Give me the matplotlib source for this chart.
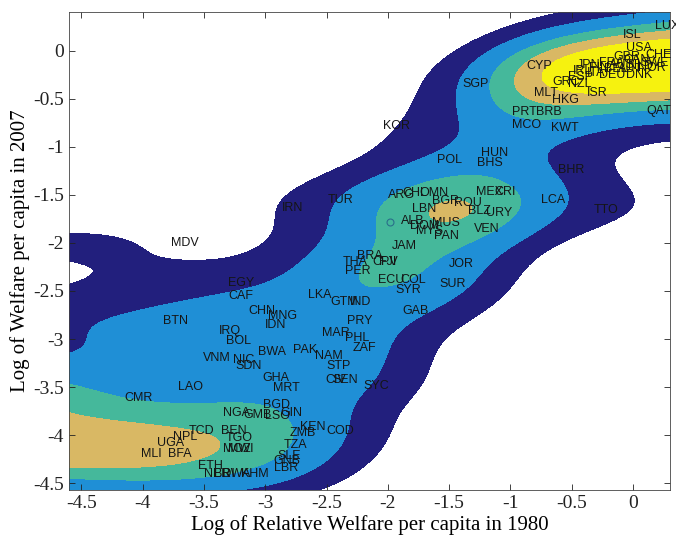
import numpy as np
import matplotlib
matplotlib.use("Agg")
import matplotlib.pyplot as plt

# country code, log relative welfare 1980, log welfare 2007
countries = ["LUX", "ISL", "USA", "CHE", "SWE", "NOR", "GBR", "CAN", "AUS", "NLD",
             "FRA", "BEL", "AUT", "FIN", "JPN", "ITA", "IRL", "ESP", "DEU", "DNK",
             "GRC", "NZL", "CYP", "MLT", "HKG", "ISR", "PRT", "BRB", "MCO", "KWT",
             "QAT", "SGP", "KOR", "HUN", "BHS", "POL", "BHR", "LCA", "TTO", "TUR",
             "IRN", "MDV", "ARG", "CHL", "OMN", "MEX", "CRI", "LBN", "BGR", "ROU",
             "BLZ", "URY", "ALB", "DOM", "MUS", "MYS", "PAN", "VEN", "JAM", "JOR",
             "BRA", "THA", "CPV", "FJI", "PER", "ECU", "COL", "SYR", "SUR", "LKA",
             "GTM", "IND", "GAB", "PRY", "MAR", "PHL", "ZAF", "NAM", "STP", "CIV",
             "SEN", "SYC", "EGY", "CAF", "BTN", "CHN", "MNG", "IDN", "IRQ", "BOL",
             "VNM", "NIC", "SDN", "BWA", "PAK", "GHA", "MRT", "LAO", "CMR", "BGD",
             "NGA", "GMB", "LSO", "GIN", "KEN", "COD", "ZMB", "TCD", "NPL", "BEN",
             "TGO", "UGA", "MLI", "BFA", "MOZ", "MWI", "TZA", "SLE", "GNB", "LBR",
             "ETH", "NER", "BDI", "RWA", "KHM"]
x1980 = [0.18, -0.08, -0.06, 0.10, 0.06, 0.04, -0.16, -0.08, -0.20, -0.04,
         -0.28, -0.24, -0.12, -0.36, -0.46, -0.38, -0.49, -0.53, -0.28, -0.06,
         -0.66, -0.53, -0.87, -0.81, -0.66, -0.38, -0.99, -0.79, -0.99, -0.67,
         0.11, -1.39, -2.04, -1.24, -1.27, -1.60, -0.61, -0.75, -0.32, -2.49,
         -2.86, -3.77, -2.00, -1.88, -1.74, -1.28, -1.13, -1.80, -1.64, -1.46,
         -1.35, -1.20, -1.89, -1.82, -1.64, -1.77, -1.62, -1.30, -1.97, -1.50,
         -2.25, -2.37, -2.13, -2.07, -2.35, -2.08, -1.90, -1.94, -1.58, -2.65,
         -2.47, -2.31, -1.88, -2.33, -2.54, -2.35, -2.29, -2.59, -2.50, -2.51,
         -2.45, -2.20, -3.30, -3.30, -3.83, -3.14, -2.98, -3.00, -3.38, -3.32,
         -3.51, -3.26, -3.24, -3.06, -2.77, -3.02, -2.94, -3.71, -4.15, -3.02,
         -3.34, -3.18, -3.00, -2.88, -2.72, -2.50, -2.80, -3.62, -3.75, -3.36,
         -3.32, -3.88, -4.01, -3.79, -3.34, -3.30, -2.85, -2.90, -2.93, -2.93,
         -3.55, -3.50, -3.42, -3.35, -3.20]
y2007 = [0.26, 0.16, 0.03, -0.05, -0.13, -0.18, -0.07, -0.10, -0.15, -0.16,
         -0.13, -0.19, -0.19, -0.18, -0.15, -0.23, -0.21, -0.27, -0.25, -0.25,
         -0.33, -0.35, -0.16, -0.44, -0.51, -0.44, -0.64, -0.64, -0.77, -0.80,
         -0.63, -0.35, -0.78, -1.06, -1.17, -1.14, -1.24, -1.55, -1.66, -1.55,
         -1.64, -2.00, -1.50, -1.48, -1.48, -1.47, -1.47, -1.65, -1.56, -1.59,
         -1.67, -1.69, -1.77, -1.82, -1.79, -1.88, -1.93, -1.86, -2.03, -2.22,
         -2.14, -2.20, -2.20, -2.20, -2.29, -2.39, -2.39, -2.49, -2.43, -2.54,
         -2.61, -2.61, -2.71, -2.81, -2.94, -2.99, -3.09, -3.18, -3.28, -3.43,
         -3.43, -3.49, -2.42, -2.55, -2.81, -2.71, -2.76, -2.85, -2.92, -3.02,
         -3.20, -3.22, -3.28, -3.13, -3.11, -3.41, -3.51, -3.50, -3.61, -3.69,
         -3.77, -3.79, -3.80, -3.77, -3.91, -3.96, -3.98, -3.96, -4.02, -3.96,
         -4.03, -4.08, -4.19, -4.19, -4.14, -4.14, -4.10, -4.22, -4.27, -4.34,
         -4.32, -4.40, -4.40, -4.40, -4.40]

# open circle seen next to ALB
marker_x = [-1.98]
marker_y = [-1.78]

xlim = (-4.6, 0.3)
ylim = (-4.57, 0.4)

# stochastic kernel: conditional density of 2007 given 1980
hx, hy = 0.5, 0.25
levels = [0.1, 0.23, 0.42, 0.6, 0.8, 10]
colors = ["#221f7d", "#1f8fd6", "#45b89b", "#d9b864", "#f6f20f"]

xs = np.array(x1980)
ys = np.array(y2007)
gx = np.linspace(xlim[0], xlim[1], 300)
gy = np.linspace(ylim[0], ylim[1], 300)
GX, GY = np.meshgrid(gx, gy)
wx = np.exp(-0.5 * ((GX[..., None] - xs) / hx) ** 2)
ky = np.exp(-0.5 * ((GY[..., None] - ys) / hy) ** 2) / (np.sqrt(2 * np.pi) * hy)
dens = (wx * ky).sum(-1) / wx.sum(-1)

fig = plt.figure(figsize=(6.76, 5.5), dpi=100)
ax = fig.add_axes([0.102, 0.109, 0.889, 0.869])
ax.contourf(GX, GY, dens, levels=levels, colors=colors)

for name, x, y in zip(countries, x1980, y2007):
    ax.text(x, y, name, fontsize=9, family="Liberation Sans", color="#151515",
            ha="left", va="center")
ax.plot(marker_x, marker_y, "o", mfc="none", mec="#2a6f8a", ms=5, mew=0.8)

ax.set_xlim(xlim)
ax.set_ylim(ylim)
ax.set_xticks(np.arange(-4.5, 0.01, 0.5))
ax.set_yticks(np.arange(-4.5, 0.01, 0.5))
ax.set_xticklabels(["-4.5", "-4", "-3.5", "-3", "-2.5", "-2", "-1.5", "-1", "-0.5", "0"])
ax.set_yticklabels(["-4.5", "-4", "-3.5", "-3", "-2.5", "-2", "-1.5", "-1", "-0.5", "0"])
ax.tick_params(direction="in", top=True, right=True, length=4, width=0.6,
               labelsize=14, colors="#222222")
for lbl in ax.get_xticklabels() + ax.get_yticklabels():
    lbl.set_family("Liberation Serif")
for s in ax.spines.values():
    s.set_linewidth(0.6)
    s.set_color("#444444")
ax.set_xlabel("Log of Relative Welfare per capita in 1980", family="Liberation Serif",
              fontsize=15, labelpad=2)
ax.set_ylabel("Log of Welfare per capita in 2007", family="Liberation Serif",
              fontsize=15, labelpad=2)

fig.savefig("out.png", dpi=100)
